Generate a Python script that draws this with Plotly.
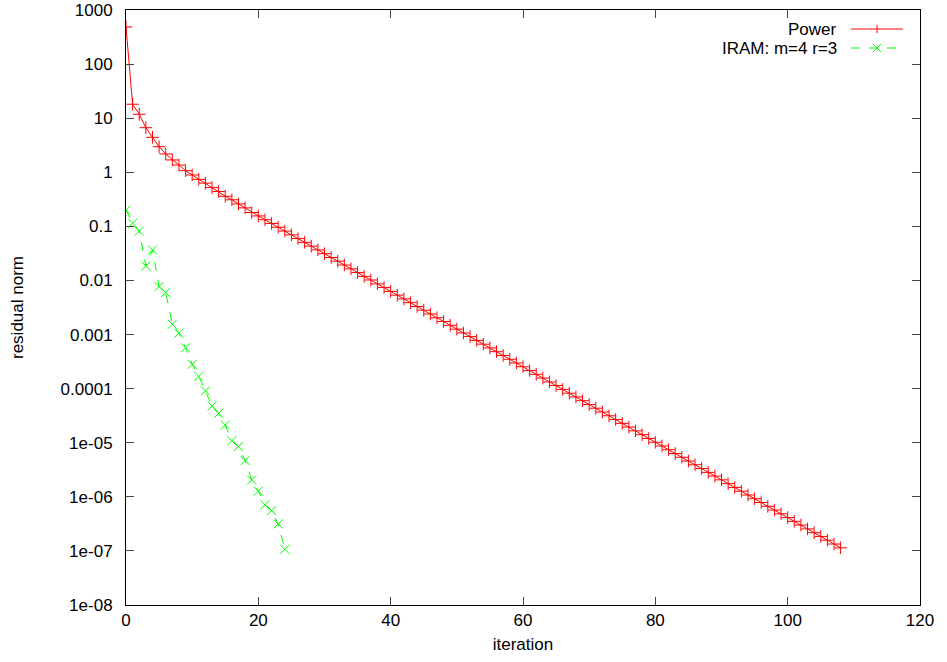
import plotly.graph_objects as go

# ---- data ----
power_iter = list(range(0, 109))
power_res = [
    485, 18.1, 11.8, 6.67, 4.43, 2.97, 2.18, 1.69, 1.36, 1.07,
    0.89, 0.74, 0.63, 0.52, 0.44, 0.36, 0.31, 0.26, 0.22, 0.18,
    0.156, 0.1325, 0.113, 0.0962, 0.0819, 0.0698, 0.0594, 0.0506, 0.0431, 0.0367,
    0.0313, 0.0266, 0.0227, 0.0193, 0.0164, 0.0140, 0.0119, 0.0102, 0.00865, 0.00738,
    0.00628, 0.00535, 0.00456, 0.00388, 0.00330, 0.00282, 0.00240, 0.00204, 0.00174, 0.00148,
    0.00126, 0.00107, 0.000916, 0.000780, 0.000664, 0.000566, 0.000482, 0.000410, 0.000349, 0.000298,
    0.000254, 0.000216, 0.000184, 0.000157, 0.000133, 0.000114, 9.68e-5, 8.24e-5, 7.02e-5, 5.98e-5,
    5.09e-5, 4.34e-5, 3.70e-5, 3.15e-5, 2.68e-5, 2.28e-5, 1.95e-5, 1.66e-5, 1.41e-5, 1.20e-5,
    1.02e-5, 8.71e-6, 7.43e-6, 6.32e-6, 5.38e-6, 4.59e-6, 3.91e-6, 3.33e-6, 2.83e-6, 2.42e-6,
    2.06e-6, 1.75e-6, 1.49e-6, 1.27e-6, 1.08e-6, 9.22e-7, 7.85e-7, 6.68e-7, 5.69e-7, 4.85e-7,
    4.13e-7, 3.52e-7, 3.00e-7, 2.55e-7, 2.17e-7, 1.85e-7, 1.58e-7, 1.34e-7, 1.14e-7,
]

iram_iter = list(range(0, 25))
iram_res = [
    0.20, 0.114, 0.082, 0.0185, 0.0366, 0.0077, 0.0060, 0.00155, 0.00106, 0.00057,
    0.000282, 0.000168, 9.06e-5, 4.8e-5, 3.5e-5, 2.13e-5, 1.09e-5, 8.5e-6, 4.67e-6, 2.05e-6,
    1.28e-6, 7.1e-7, 5.56e-7, 3.16e-7, 1.07e-7,
]

x_ticks = [0, 20, 40, 60, 80, 100, 120]
y_tickvals = [1e3, 1e2, 1e1, 1, 1e-1, 1e-2, 1e-3, 1e-4, 1e-5, 1e-6, 1e-7, 1e-8]
y_ticktext = ["1000", "100", "10", "1", "0.1", "0.01", "0.001", "0.0001",
              "1e-05", "1e-06", "1e-07", "1e-08"]

series_names = ["Power", "IRAM: m=4 r=3"]
series_colors = ["#ff0000", "#00ff00"]
series_dash = ["solid", "dash"]

FONT = "Liberation Sans, Arial, sans-serif"
FS = 17

fig = go.Figure()
fig.add_trace(go.Scatter(
    x=power_iter, y=power_res, name=series_names[0], mode="lines+markers",
    line=dict(color=series_colors[0], width=1),
    marker=dict(symbol="cross-thin-open", size=9, line=dict(color=series_colors[0], width=1)),
))
fig.add_trace(go.Scatter(
    x=iram_iter, y=iram_res, name=series_names[1], mode="lines+markers",
    line=dict(color=series_colors[1], width=1, dash="dash"),
    marker=dict(symbol="x-thin-open", size=9, line=dict(color=series_colors[1], width=1)),
))

# gnuplot-style key: text right-aligned, sample to its right (paper coords)
PW, PH = 794.0, 595.0
key_rows_y = [1 - 19 / PH, 1 - 38 / PH]
x0, x1, xm = 0.9131, 0.9786, (0.9131 + 0.9786) / 2
dx, dy = 4 / PW, 4 / PH
for i, nm in enumerate(series_names):
    yy = key_rows_y[i]
    fig.add_annotation(
        xref="paper", yref="paper", x=0.898, y=yy,
        text=nm, showarrow=False, xanchor="right", yanchor="middle",
        font=dict(family=FONT, size=FS, color="black"),
    )
    fig.add_shape(type="line", xref="paper", yref="paper", x0=x0, x1=x1, y0=yy, y1=yy,
                  line=dict(color=series_colors[i], width=1, dash=series_dash[i]))
    if i == 0:
        fig.add_shape(type="line", xref="paper", yref="paper", x0=xm, x1=xm,
                      y0=yy - dy, y1=yy + dy, line=dict(color=series_colors[i], width=1))
    else:
        fig.add_shape(type="line", xref="paper", yref="paper", x0=xm - dx, x1=xm + dx,
                      y0=yy - dy, y1=yy + dy, line=dict(color=series_colors[i], width=1))
        fig.add_shape(type="line", xref="paper", yref="paper", x0=xm - dx, x1=xm + dx,
                      y0=yy + dy, y1=yy - dy, line=dict(color=series_colors[i], width=1))

fig.update_layout(
    width=947, height=662,
    margin=dict(l=126, r=27, t=10, b=57, autoexpand=False),
    paper_bgcolor="white", plot_bgcolor="white",
    font=dict(family=FONT, size=FS, color="black"),
    showlegend=False,
    xaxis=dict(
        range=[0, 120], tickvals=x_ticks, ticks="inside", ticklen=8,
        showline=True, linecolor="black", linewidth=1, mirror="ticks",
        showgrid=False, zeroline=False, ticklabelstandoff=0,
        title=dict(text="iteration", standoff=8, font=dict(size=FS)),
    ),
    yaxis=dict(
        type="log", range=[-8, 3], tickvals=y_tickvals, ticktext=y_ticktext,
        ticks="inside", ticklen=8, ticklabeloverflow="allow",
        showline=True, linecolor="black", linewidth=1, mirror="ticks",
        showgrid=False, zeroline=False, ticklabelstandoff=9,
        title=dict(text="residual norm", standoff=32, font=dict(size=FS)),
    ),
)

fig.write_html(
    "out.html",
    config={"displayModeBar": False},
    post_script="document.body.style.margin='0';document.body.style.overflow='hidden';",
)
